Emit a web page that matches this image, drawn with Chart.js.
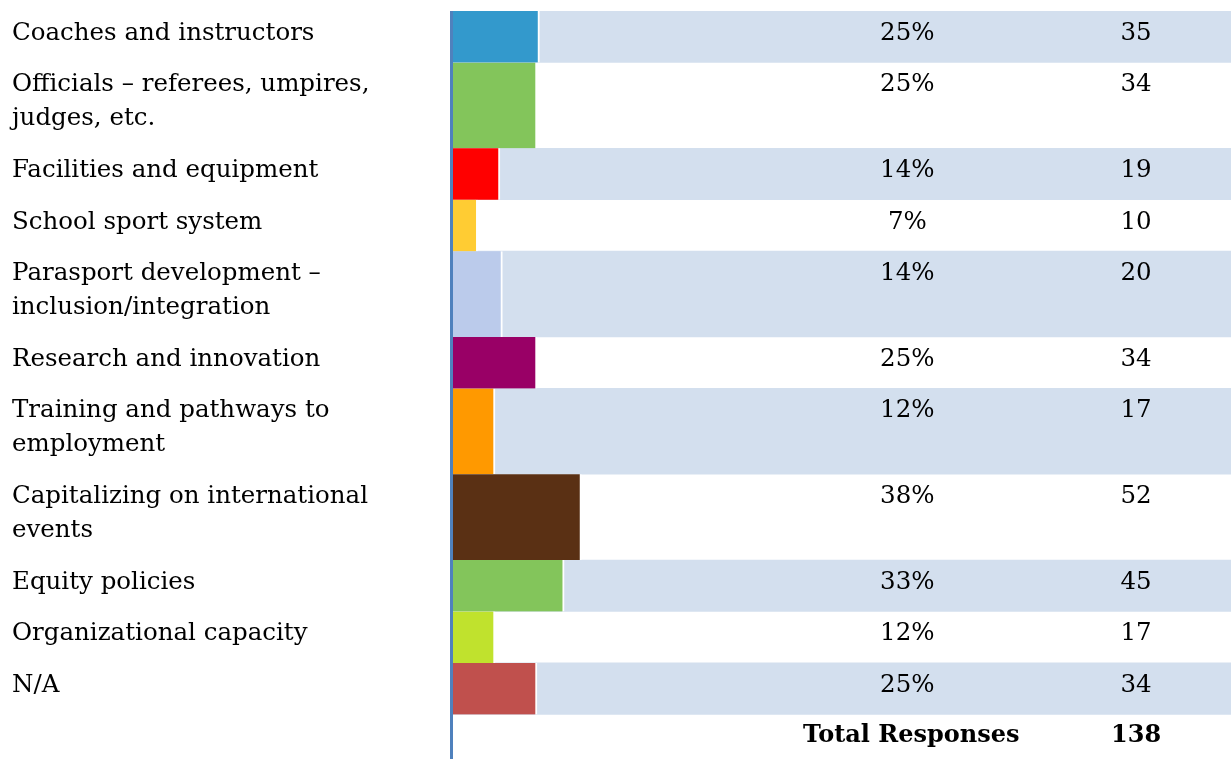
<!DOCTYPE html>
<html>
<head>
<meta charset="utf-8">
<script src="https://cdn.jsdelivr.net/npm/chart.js@4.4.1/dist/chart.umd.min.js"></script>
<style>
  body { margin: 0; background: #fff; }
  #wrap { width: 1231px; height: 759px; }
</style>
</head>
<body>
<div id="wrap"><canvas id="myChart"></canvas></div>
<script>
const categories = [
  ['Coaches and instructors'],
  ['Officials – referees, umpires,', 'judges, etc.'],
  ['Facilities and equipment'],
  ['School sport system'],
  ['Parasport development –', 'inclusion/integration'],
  ['Research and innovation'],
  ['Training and pathways to', 'employment'],
  ['Capitalizing on international', 'events'],
  ['Equity policies'],
  ['Organizational capacity'],
  ['N/A']
];
const responses = [35, 34, 19, 10, 20, 34, 17, 52, 45, 17, 34];
const percentLabels = ['25%', '25%', '14%', '7%', '14%', '25%', '12%', '38%', '33%', '12%', '25%'];
const totalLabel = 'Total Responses';
const totalResponses = 138;
const barColors = ['#3399cc', '#83c55b', '#ff0000', '#ffcc33', '#bbcbeb', '#990066',
                   '#ff9900', '#5a3014', '#83c55b', '#c0e22d', '#c0504d'];

const stripeColor = '#d3dfee';
const axisColor = '#4f81bd';
const xMax = 315;
const totalRowUnits = 2.6;
const plotHeight = 748;
const font = '"DejaVu Serif"';

// row heights in units: one-line rows 3, two-line rows 5
const rowUnits = categories.map(lines => lines.length === 1 ? 3 : 5);
const rowStart = [];
let acc = 0;
rowUnits.forEach(u => { rowStart.push(acc); acc += u; });
const yMax = acc + totalRowUnits;
const unitPx = plotHeight / yMax;

function rowsWith(n) {
  return categories.map((c, i) => i).filter(i => categories[i].length === n);
}

const datasets = [];
[1, 2].forEach(n => {
  const idx = rowsWith(n);
  datasets.push({
    data: idx.map(i => ({ x: responses[i], y: rowStart[i] + rowUnits[i] / 2 })),
    backgroundColor: idx.map(i => barColors[i]),
    borderColor: '#ffffff',
    borderWidth: { right: 2 },
    borderSkipped: false,
    barThickness: (n === 1 ? 3 : 5) * unitPx,
    order: 0
  });
  const striped = idx.filter(i => i % 2 === 0);
  datasets.push({
    data: striped.map(i => ({ x: [0, xMax], y: rowStart[i] + rowUnits[i] / 2 })),
    backgroundColor: stripeColor,
    borderWidth: 0,
    barThickness: (n === 1 ? 3 : 5) * unitPx,
    order: 1
  });
});

const tableText = {
  id: 'tableText',
  afterDraw(chart) {
    const { ctx, chartArea, scales: { y } } = chart;
    const pctX = chartArea.left + chartArea.width * 0.584;
    const cntX = chartArea.left + chartArea.width * 0.878;
    ctx.save();
    // vertical axis line on top of the bars
    ctx.strokeStyle = axisColor;
    ctx.lineWidth = 3;
    ctx.beginPath();
    ctx.moveTo(chartArea.left - 1.5, chartArea.top);
    ctx.lineTo(chartArea.left - 1.5, chartArea.bottom);
    ctx.stroke();

    ctx.fillStyle = '#000000';
    ctx.textBaseline = 'alphabetic';
    ctx.font = '24.5px ' + font;
    categories.forEach((lines, i) => {
      const top = y.getPixelForValue(rowStart[i]);
      ctx.textAlign = 'left';
      lines.forEach((t, k) => ctx.fillText(t, 12, top + 29 + k * 34));
      ctx.textAlign = 'center';
      ctx.fillText(percentLabels[i], pctX, top + 29);
      ctx.fillText(String(responses[i]), cntX, top + 29);
    });
    const totTop = y.getPixelForValue(acc);
    ctx.font = 'bold 24px ' + font;
    ctx.textAlign = 'center';
    ctx.fillText(totalLabel, pctX + 4, totTop + 28);
    ctx.fillText(String(totalResponses), cntX, totTop + 28);
    ctx.restore();
  }
};

const ctx = document.getElementById('myChart');
new Chart(ctx, {
  type: 'bar',
  data: { datasets: datasets },
  options: {
    indexAxis: 'y',
    responsive: true,
    maintainAspectRatio: false,
    animation: false,
    grouped: false,
    layout: { padding: { left: 453, top: 11, right: 0, bottom: 0 } },
    plugins: { legend: { display: false }, tooltip: { enabled: false } },
    scales: {
      x: { type: 'linear', min: 0, max: xMax, display: false },
      y: { type: 'linear', reverse: true, offset: false, min: 0, max: yMax, display: false }
    }
  },
  plugins: [tableText]
});
</script>
</body>
</html>
